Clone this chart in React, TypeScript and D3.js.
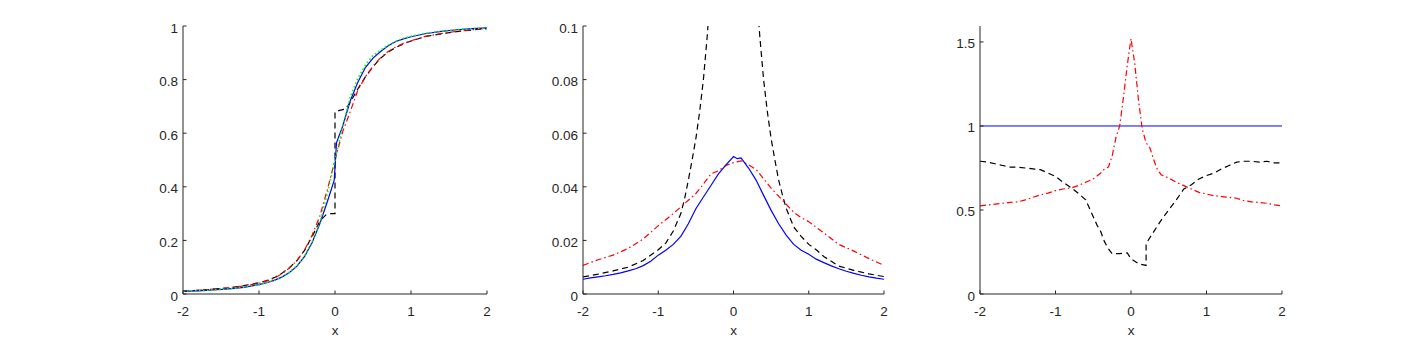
import * as d3 from "d3";
import React from "react";

// ---- panel 1: cumulative curves ----
const cdfX = [-2, -1.8, -1.6, -1.4, -1.2, -1, -0.9, -0.8, -0.7, -0.6, -0.5, -0.4, -0.3, -0.2, -0.1, 0, 0.1, 0.2, 0.3, 0.4, 0.5, 0.6, 0.7, 0.8, 0.9, 1, 1.2, 1.4, 1.6, 1.8, 2];
const cdfGreen = [0.010, 0.012, 0.015, 0.019, 0.025, 0.035, 0.042, 0.051, 0.063, 0.081, 0.106, 0.142, 0.195, 0.265, 0.375, 0.50, 0.625, 0.735, 0.805, 0.855, 0.89, 0.91, 0.928, 0.943, 0.954, 0.962, 0.973, 0.980, 0.986, 0.990, 0.993];
const cdfRed = [0.011, 0.014, 0.018, 0.023, 0.030, 0.040, 0.048, 0.059, 0.075, 0.097, 0.125, 0.165, 0.220, 0.290, 0.390, 0.50, 0.605, 0.680, 0.760, 0.810, 0.850, 0.882, 0.905, 0.922, 0.935, 0.945, 0.962, 0.972, 0.980, 0.986, 0.991];
const cdfBlueX = [-2, -1.8, -1.6, -1.4, -1.2, -1, -0.9, -0.8, -0.7, -0.6, -0.5, -0.4, -0.3, -0.2, -0.1, -0.01, 0.02, 0.1, 0.2, 0.3, 0.4, 0.5, 0.6, 0.7, 0.8, 0.9, 1, 1.2, 1.4, 1.6, 1.8, 2];
const cdfBlue = [0.010, 0.012, 0.015, 0.019, 0.025, 0.035, 0.042, 0.051, 0.063, 0.080, 0.104, 0.140, 0.192, 0.262, 0.345, 0.425, 0.565, 0.625, 0.720, 0.790, 0.845, 0.880, 0.905, 0.926, 0.942, 0.952, 0.960, 0.972, 0.980, 0.986, 0.990, 0.993];
const cdfBlackX = [-2, -1.8, -1.6, -1.4, -1.2, -1, -0.9, -0.8, -0.7, -0.6, -0.5, -0.4, -0.3, -0.2, -0.12, -0.06, 0, 0, 0.06, 0.14, 0.2, 0.3, 0.4, 0.5, 0.6, 0.7, 0.8, 0.9, 1, 1.2, 1.4, 1.6, 1.8, 2];
const cdfBlack = [0.011, 0.014, 0.018, 0.023, 0.031, 0.042, 0.050, 0.061, 0.077, 0.098, 0.125, 0.163, 0.215, 0.272, 0.295, 0.300, 0.300, 0.680, 0.685, 0.690, 0.715, 0.765, 0.810, 0.848, 0.880, 0.903, 0.920, 0.933, 0.944, 0.961, 0.971, 0.979, 0.985, 0.990];

// ---- panel 2: densities ----
const pdfX = [-2, -1.9, -1.8, -1.7, -1.6, -1.5, -1.4, -1.3, -1.2, -1.1, -1, -0.9, -0.8, -0.7, -0.6, -0.5, -0.4, -0.3, -0.2, -0.1, 0, 0.05, 0.1, 0.2, 0.3, 0.4, 0.5, 0.6, 0.7, 0.8, 0.9, 1, 1.1, 1.2, 1.3, 1.4, 1.5, 1.6, 1.7, 1.8, 1.9, 2];
const pdfBlue = [0.0055, 0.0060, 0.0064, 0.0068, 0.0073, 0.0079, 0.0086, 0.0094, 0.0106, 0.0122, 0.0145, 0.0163, 0.0185, 0.0215, 0.0262, 0.0318, 0.0362, 0.0405, 0.0448, 0.0482, 0.0513, 0.0505, 0.0508, 0.0470, 0.0425, 0.0368, 0.0312, 0.0262, 0.0220, 0.0185, 0.0163, 0.0148, 0.0130, 0.0117, 0.0105, 0.0094, 0.0085, 0.0077, 0.0070, 0.0064, 0.0059, 0.0055];
const pdfRedX = [-2, -1.8, -1.6, -1.4, -1.2, -1, -0.8, -0.6, -0.5, -0.4, -0.3, -0.2, -0.1, 0, 0.1, 0.2, 0.3, 0.4, 0.5, 0.6, 0.7, 0.8, 0.9, 1, 1.2, 1.4, 1.6, 1.8, 2];
const pdfRed = [0.0107, 0.0128, 0.0145, 0.0170, 0.0205, 0.0255, 0.0300, 0.0350, 0.0375, 0.0410, 0.0448, 0.0460, 0.0480, 0.0490, 0.0497, 0.0482, 0.0465, 0.0430, 0.0395, 0.0365, 0.0335, 0.0305, 0.0285, 0.0270, 0.0228, 0.0185, 0.0160, 0.0132, 0.0107];
const pdfBlackX = [-2, -1.8, -1.6, -1.4, -1.2, -1, -0.9, -0.8, -0.7, -0.65, -0.6, -0.55, -0.5, -0.45, -0.4, -0.35, -0.3, -0.2, 0, 0.2, 0.3, 0.35, 0.4, 0.45, 0.5, 0.55, 0.6, 0.65, 0.7, 0.8, 0.9, 1, 1.1, 1.2, 1.4, 1.6, 1.8, 2];
const pdfBlack = [0.0064, 0.0074, 0.0086, 0.0100, 0.0125, 0.0165, 0.0190, 0.0235, 0.0300, 0.0355, 0.0425, 0.0500, 0.0580, 0.0680, 0.0800, 0.0960, 0.115, 0.20, 0.6, 0.20, 0.115, 0.096, 0.080, 0.068, 0.058, 0.050, 0.0425, 0.0370, 0.0320, 0.0250, 0.0215, 0.0185, 0.0165, 0.0140, 0.0104, 0.0088, 0.0075, 0.0065];

// ---- panel 3: ratios ----
const ratioBlueX = [-2, 2];
const ratioBlue = [1, 1];
const ratioRedX = [-2, -1.9, -1.8, -1.7, -1.6, -1.5, -1.4, -1.3, -1.2, -1.1, -1, -0.9, -0.8, -0.7, -0.6, -0.5, -0.4, -0.35, -0.3, -0.25, -0.2, -0.15, -0.1, -0.05, 0, 0.05, 0.1, 0.15, 0.2, 0.25, 0.3, 0.35, 0.4, 0.5, 0.6, 0.7, 0.8, 0.9, 1, 1.1, 1.2, 1.3, 1.4, 1.5, 1.6, 1.7, 1.8, 1.9, 2];
const ratioRed = [0.525, 0.53, 0.535, 0.54, 0.545, 0.548, 0.56, 0.575, 0.59, 0.60, 0.615, 0.625, 0.63, 0.645, 0.665, 0.685, 0.72, 0.745, 0.755, 0.82, 0.93, 1.0, 1.17, 1.36, 1.52, 1.37, 1.15, 0.98, 0.90, 0.87, 0.80, 0.74, 0.71, 0.69, 0.665, 0.645, 0.625, 0.605, 0.595, 0.585, 0.58, 0.575, 0.57, 0.555, 0.548, 0.545, 0.54, 0.53, 0.525];
const ratioBlackX = [-2, -1.9, -1.8, -1.7, -1.6, -1.5, -1.4, -1.3, -1.2, -1.1, -1, -0.9, -0.8, -0.7, -0.6, -0.5, -0.45, -0.4, -0.35, -0.3, -0.25, -0.15, -0.05, 0, 0.1, 0.2, 0.2, 0.3, 0.4, 0.5, 0.6, 0.7, 0.8, 0.9, 1, 1.1, 1.2, 1.3, 1.4, 1.5, 1.6, 1.7, 1.8, 1.9, 2];
const ratioBlack = [0.79, 0.785, 0.775, 0.765, 0.755, 0.755, 0.75, 0.745, 0.74, 0.72, 0.70, 0.665, 0.635, 0.60, 0.56, 0.46, 0.41, 0.37, 0.31, 0.27, 0.24, 0.24, 0.245, 0.21, 0.18, 0.17, 0.30, 0.37, 0.44, 0.50, 0.56, 0.625, 0.65, 0.685, 0.705, 0.72, 0.745, 0.765, 0.785, 0.79, 0.79, 0.785, 0.79, 0.78, 0.78];

const xTicks = [-2, -1, 0, 1, 2];

const axisColor = "#262626";
const font = "'Liberation Sans', Arial, Helvetica, sans-serif";
const fontSize = 13.5;

type Series = { xs: number[]; ys: number[]; color: string; dash?: string; width?: number };

const styles = {
  solid: { color: "#0000ff" },
  dashed: { color: "#000000", dash: "6,4" },
  dashDot: { color: "#ff0000", dash: "6,3,1.5,3" },
  dotted: { color: "#00ff00", dash: "1.5,2.5", width: 1.6 },
};

function Panel({ id, left, right, top, bottom, yMax, yTicks, series }: {
  id: string; left: number; right: number; top: number; bottom: number;
  yMax: number; yTicks: number[]; series: Series[];
}) {
  const x = d3.scaleLinear().domain([-2, 2]).range([left, right]);
  const y = d3.scaleLinear().domain([0, yMax]).range([bottom, top]);
  const line = d3.line<[number, number]>().x((d) => x(d[0])).y((d) => y(d[1]));
  const tick = 3.5;

  return (
    <g>
      <defs>
        <clipPath id={id}>
          <rect x={left} y={top} width={right - left} height={bottom - top} />
        </clipPath>
      </defs>
      <g clipPath={`url(#${id})`}>
        {series.map((s, i) => (
          <path
            key={i}
            d={line(s.xs.map((v, j) => [v, s.ys[j]] as [number, number])) || ""}
            fill="none"
            stroke={s.color}
            strokeWidth={s.width || 1.2}
            strokeDasharray={s.dash}
          />
        ))}
      </g>
      <line x1={left} x2={right} y1={bottom} y2={bottom} stroke={axisColor} strokeWidth={1} />
      <line x1={left} x2={left} y1={top} y2={bottom} stroke={axisColor} strokeWidth={1} />
      {xTicks.map((t) => (
        <g key={"x" + t}>
          <line x1={x(t)} x2={x(t)} y1={bottom} y2={bottom - tick} stroke={axisColor} />
          <text x={x(t)} y={bottom + 22} textAnchor="middle" fontSize={fontSize} fill={axisColor} fontFamily={font}>
            {t}
          </text>
        </g>
      ))}
      {yTicks.map((t) => (
        <g key={"y" + t}>
          <line x1={left} x2={left + tick} y1={y(t)} y2={y(t)} stroke={axisColor} />
          <text x={left - 5} y={y(t) + 6.5} textAnchor="end" fontSize={fontSize} fill={axisColor} fontFamily={font}>
            {t}
          </text>
        </g>
      ))}
      <text x={(left + right) / 2} y={bottom + 41} textAnchor="middle" fontSize={fontSize} fill={axisColor} fontFamily={font}>
        x
      </text>
    </g>
  );
}

export default function App() {
  const top = 26;
  const bottom = 294;
  return (
    <svg width={1417} height={340} style={{ position: "absolute", left: 0, top: 0, background: "#fff" }}>
      <Panel
        id="c1" left={183} right={487} top={top} bottom={bottom} yMax={1}
        yTicks={[0, 0.2, 0.4, 0.6, 0.8, 1]}
        series={[
          { xs: cdfBlackX, ys: cdfBlack, ...styles.dashed },
          { xs: cdfX, ys: cdfRed, ...styles.dashDot },
          { xs: cdfBlueX, ys: cdfBlue, ...styles.solid },
          { xs: cdfX, ys: cdfGreen, ...styles.dotted },
        ]}
      />
      <Panel
        id="c2" left={583} right={884} top={top} bottom={bottom} yMax={0.1}
        yTicks={[0, 0.02, 0.04, 0.06, 0.08, 0.1]}
        series={[
          { xs: pdfBlackX, ys: pdfBlack, ...styles.dashed },
          { xs: pdfRedX, ys: pdfRed, ...styles.dashDot },
          { xs: pdfX, ys: pdfBlue, ...styles.solid },
        ]}
      />
      <Panel
        id="c3" left={980} right={1282} top={top} bottom={bottom} yMax={1.595}
        yTicks={[0, 0.5, 1, 1.5]}
        series={[
          { xs: ratioBlueX, ys: ratioBlue, color: "#0000ff", width: 1 },
          { xs: ratioBlackX, ys: ratioBlack, ...styles.dashed },
          { xs: ratioRedX, ys: ratioRed, ...styles.dashDot },
        ]}
      />
    </svg>
  );
}
